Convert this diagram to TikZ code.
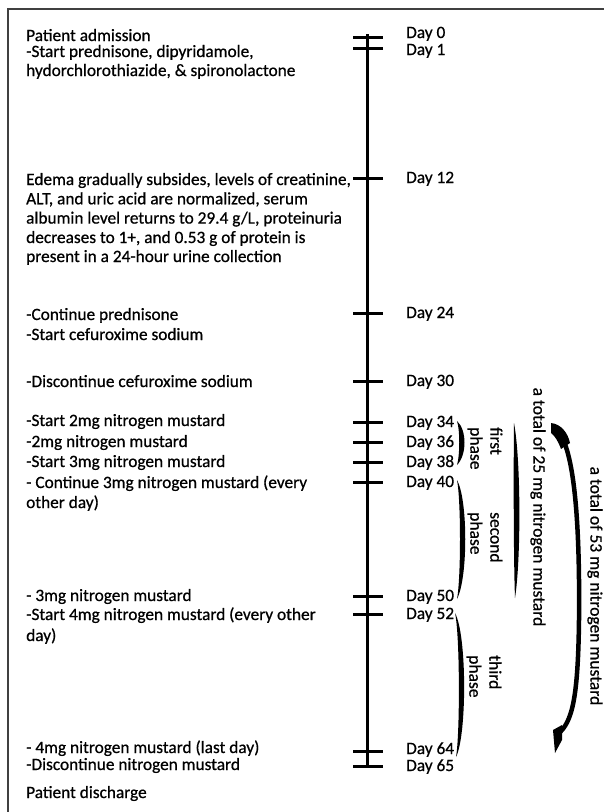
\documentclass[tikz,border=0pt]{standalone}
\usepackage{fontspec}
\setmainfont{Carlito}[FakeBold=0.7]
\begin{document}
\begin{tikzpicture}[x=1pt,y=-1pt,
  txt/.style={anchor=base west, inner sep=0pt, font=\fontsize{17.3}{19.3}\selectfont},
  daylab/.style={anchor=base west, inner sep=0pt, font=\fontsize{17.3}{19.3}\selectfont},
  tickln/.style={line width=3pt},
  rot/.style={rotate=-90, inner sep=0pt, font=\fontsize{17.5}{20}\selectfont, align=left},
  frameln/.style={line width=1.5pt, black!75}]
\useasboundingbox (0,0) rectangle (604,812);
% frame
\draw[frameln] (8,812) -- (8,9) -- (604,9);
% timeline
\coordinate (ttop) at (367,34);
\coordinate (tbot) at (367,766);
\draw[line width=3pt] (ttop) -- (tbot);
% ticks and day labels
\foreach \nm/\ty/\lb/\txt in {d0/37/38/Day 0, d1/48/55/Day 1, d12/178/183/Day 12,
    d24/313/318/Day 24, d30/381/386/Day 30, d34/422/427/Day 34, d36/442/447/Day 36,
    d38/462/467/Day 38, d40/482/487/Day 40, d50/596/601/Day 50, d52/614/619/Day 52,
    d64/751/754/Day 64, d65/766/771/Day 65}{
  \coordinate (tl\nm) at (353,\ty);
  \coordinate (tr\nm) at (383,\ty);
  \draw[tickln] (tl\nm) -- (tr\nm);
  \node[daylab] (lab\nm) at (406,\lb) {\txt};
}
% left texts
\node[txt] (a1) at (26,41) {Patient admission};
\node[txt] (a2) at (26,57) {-Start prednisone, dipyridamole,};
\node[txt] (a3) at (26,76) {hydorchlorothiazide, \& spironolactone};
\node[txt] (b1) at (26,185) {Edema gradually subsides, levels of creatinine,};
\node[txt] (b2) at (26,204.3) {ALT, and uric acid are normalized, serum};
\node[txt] (b3) at (26,223.6) {albumin level returns to 29.4 g/L, proteinuria};
\node[txt] (b4) at (26,243) {decreases to 1+, and 0.53 g of protein is};
\node[txt] (b5) at (26,262) {present in a 24-hour urine collection};
\node[txt] (c1) at (26,320) {-Continue prednisone};
\node[txt] (c2) at (26,340) {-Start cefuroxime sodium};
\node[txt] (c3) at (26,387) {-Discontinue cefuroxime sodium};
\node[txt] (c4) at (26,426) {-Start 2mg nitrogen mustard};
\node[txt] (c5) at (26,447) {-2mg nitrogen mustard};
\node[txt] (c6) at (26,467) {-Start 3mg nitrogen mustard};
\node[txt] (c7) at (26,488) {- Continue 3mg nitrogen mustard (every};
\node[txt] (c8) at (26,508) {other day)};
\node[txt] (c9) at (26,601) {- 3mg nitrogen mustard};
\node[txt] (c10) at (26,620) {-Start 4mg nitrogen mustard (every other};
\node[txt] (c11) at (26,641) {day)};
\node[txt] (c12) at (26,753) {- 4mg nitrogen mustard (last day)};
\node[txt] (c13) at (26,770) {-Discontinue nitrogen mustard};
\node[txt] (c14) at (26,798) {Patient discharge};
% phase braces
\fill (457,421) .. controls (467,430) and (467,455) .. (457,465)
      .. controls (460,455) and (460,430) .. (457,421) -- cycle;
\fill (457,480) .. controls (468,500) and (468,578) .. (457,599)
      .. controls (461,578) and (461,500) .. (457,480) -- cycle;
\fill (455,613) .. controls (467,635) and (467,735) .. (456,757)
      .. controls (460,735) and (460,635) .. (455,613) -- cycle;
% 25 mg bar
\fill (514,423) .. controls (521,460) and (521,560) .. (515,598)
      .. controls (513.5,560) and (513.5,460) .. (514,423) -- cycle;
% 53 mg bar
\draw[line width=4.5pt] (560,434) .. controls (574,455) and (580,520) .. (579,620)
      .. controls (578,700) and (572,722) .. (558,734);
\fill (551,423) .. controls (561,424) and (568,433) .. (570,443) -- (561,449)
      .. controls (558,441) and (555,436) .. (551,433) -- cycle;
\fill (553,730) -- (562,725) -- (562,740) -- (555,753) -- cycle;
% phase labels
\node[rot, anchor=west] (p1) at (485,427) {first\\phase};
\node[rot, anchor=west] (p2) at (485,512) {second\\phase};
\node[rot, anchor=west] (p3) at (484,655) {third\\phase};
\node[rot] (t25) at (538,507) {a total of 25 mg nitrogen mustard};
\node[rot] (t53) at (595,586) {a total of 53 mg nitrogen mustard};
\end{tikzpicture}
\end{document}
